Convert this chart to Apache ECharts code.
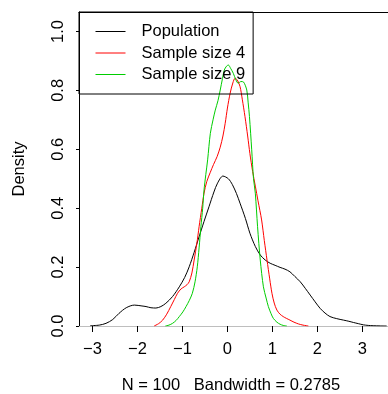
<!DOCTYPE html>
<html>
<head>
<meta charset="utf-8">
<script src="https://cdn.jsdelivr.net/npm/echarts@6/dist/echarts.min.js"></script>
<style>
  html, body { margin: 0; padding: 0; background: #fff; }
  #chart { width: 388px; height: 394px; }
</style>
</head>
<body>
<div id="chart"></div>
<script>
// 密度曲线数据
var popX = [-3.05, -2.85, -2.70, -2.55, -2.41, -2.25, -2.07, -1.90, -1.81, -1.70, -1.59, -1.48, -1.37, -1.22, -1.07, -0.95, -0.85, -0.74, -0.63, -0.52, -0.41, -0.30, -0.22, -0.10, 0.02, 0.11, 0.20, 0.28, 0.40, 0.50, 0.62, 0.73, 0.84, 0.95, 1.06, 1.17, 1.28, 1.39, 1.50, 1.62, 1.73, 1.84, 1.95, 2.06, 2.17, 2.28, 2.43, 2.58, 2.70, 2.80, 2.91, 3.02, 3.13, 3.24, 3.40, 3.54];
var popY = [0.001, 0.003, 0.009, 0.022, 0.043, 0.062, 0.071, 0.068, 0.066, 0.062, 0.061, 0.066, 0.077, 0.100, 0.133, 0.165, 0.201, 0.250, 0.303, 0.355, 0.405, 0.455, 0.485, 0.509, 0.500, 0.480, 0.450, 0.417, 0.365, 0.315, 0.270, 0.241, 0.224, 0.213, 0.206, 0.199, 0.193, 0.184, 0.168, 0.150, 0.128, 0.105, 0.082, 0.060, 0.044, 0.032, 0.025, 0.020, 0.016, 0.012, 0.008, 0.004, 0.002, 0.001, 0.0003, 0];

var s4X = [-1.63, -1.53, -1.44, -1.35, -1.26, -1.18, -1.11, -1.03, -0.96, -0.90, -0.85, -0.79, -0.74, -0.68, -0.63, -0.57, -0.52, -0.46, -0.38, -0.31, -0.23, -0.16, -0.10, -0.05, 0.00, 0.06, 0.12, 0.17, 0.22, 0.28, 0.33, 0.39, 0.45, 0.50, 0.56, 0.62, 0.68, 0.76, 0.82, 0.88, 0.94, 0.99, 1.04, 1.10, 1.17, 1.24, 1.31, 1.39, 1.48, 1.58, 1.68, 1.80];
var s4Y = [0, 0.008, 0.020, 0.040, 0.066, 0.090, 0.111, 0.126, 0.133, 0.140, 0.150, 0.180, 0.224, 0.280, 0.337, 0.400, 0.451, 0.490, 0.522, 0.548, 0.575, 0.607, 0.645, 0.688, 0.740, 0.790, 0.825, 0.841, 0.835, 0.813, 0.770, 0.711, 0.645, 0.585, 0.525, 0.475, 0.425, 0.360, 0.290, 0.224, 0.160, 0.111, 0.078, 0.054, 0.040, 0.032, 0.026, 0.020, 0.013, 0.007, 0.003, 0];

var s9X = [-1.38, -1.30, -1.22, -1.14, -1.07, -0.99, -0.92, -0.85, -0.78, -0.72, -0.67, -0.63, -0.59, -0.55, -0.52, -0.48, -0.44, -0.38, -0.32, -0.27, -0.21, -0.16, -0.11, -0.07, -0.02, 0.02, 0.07, 0.13, 0.19, 0.24, 0.30, 0.36, 0.43, 0.46, 0.49, 0.54, 0.58, 0.62, 0.67, 0.73, 0.80, 0.86, 0.91, 0.97, 1.02, 1.10, 1.17, 1.24, 1.32];
var s9Y = [0, 0.003, 0.009, 0.019, 0.032, 0.048, 0.066, 0.086, 0.111, 0.150, 0.201, 0.265, 0.337, 0.400, 0.462, 0.515, 0.564, 0.654, 0.700, 0.733, 0.765, 0.801, 0.840, 0.869, 0.882, 0.886, 0.875, 0.858, 0.835, 0.824, 0.830, 0.828, 0.801, 0.760, 0.711, 0.598, 0.500, 0.451, 0.337, 0.224, 0.133, 0.095, 0.066, 0.042, 0.026, 0.013, 0.006, 0.002, 0];

var seriesNames = ['Population', 'Sample size 4', 'Sample size 9'];
var xTicks = [-3, -2, -1, 0, 1, 2, 3];
var yTicks = [0, 0.2, 0.4, 0.6, 0.8, 1.0];
var xLabel = 'N = 100   Bandwidth = 0.2785';
var yLabel = 'Density';

var FONT = 'Liberation Sans';

// 合成 [x, y]
function toPairs(xs, ys) {
    var arr = [];
    for (var i = 0; i < xs.length; i++) {
        arr.push([xs[i], ys[i]]);
    }
    return arr;
}

var chart = echarts.init(document.getElementById('chart'));

var option = {
    animation: false,
    backgroundColor: '#fff',
    grid: { left: 79, top: 12, right: 0, bottom: 68 },
    legend: {
        orient: 'vertical',
        left: 79,
        top: 12,
        padding: [11, 8, 11, 16],
        itemWidth: 30,
        itemHeight: 14,
        itemGap: 4.5,
        borderColor: '#000',
        borderWidth: 1,
        itemStyle: { color: 'transparent', borderWidth: 0 },
        lineStyle: { width: 1 },
        textStyle: { fontFamily: FONT, fontSize: 16.5, color: '#000', lineHeight: 16, padding: [0, 0, 0, 11] },
        data: seriesNames
    },
    xAxis: [{
        type: 'value',
        min: -3.30,
        max: 3.57,
        splitLine: { show: false },
        axisLine: { show: true, onZero: false, lineStyle: { color: '#bebebe', width: 1 } },
        axisTick: { show: true, length: 6, lineStyle: { color: '#000' }, customValues: xTicks },
        axisLabel: {
            fontFamily: FONT, fontSize: 16.5, color: '#000', margin: 15,
            customValues: xTicks,
            formatter: function (v) { return String(v).replace('-', '\u2212'); }
        }
    }, {
        type: 'value',
        position: 'top',
        min: -3.30,
        max: 3.57,
        splitLine: { show: false },
        axisLine: { show: true, onZero: false, lineStyle: { color: '#000', width: 1 } },
        axisTick: { show: false },
        axisLabel: { show: false }
    }],
    yAxis: {
        type: 'value',
        min: 0,
        max: 1.066,
        splitLine: { show: false },
        axisLine: { show: true, onZero: false, lineStyle: { color: '#000', width: 1 } },
        axisTick: { show: true, length: 3, lineStyle: { color: '#000' }, customValues: yTicks },
        axisLabel: {
            fontFamily: FONT, fontSize: 16.5, color: '#000', margin: 12, rotate: 90,
            customValues: yTicks,
            formatter: function (v) { return v.toFixed(1); }
        }
    },
    series: [
        {
            name: seriesNames[0], type: 'line', symbol: 'none', smooth: 0.3,
            lineStyle: { color: '#000', width: 1 }, itemStyle: { color: '#000' },
            data: toPairs(popX, popY)
        },
        {
            name: seriesNames[1], type: 'line', symbol: 'none', smooth: 0.3,
            lineStyle: { color: '#ff0000', width: 1 }, itemStyle: { color: '#ff0000' },
            data: toPairs(s4X, s4Y)
        },
        {
            name: seriesNames[2], type: 'line', symbol: 'none', smooth: 0.3,
            lineStyle: { color: '#00cd00', width: 1 }, itemStyle: { color: '#00cd00' },
            data: toPairs(s9X, s9Y)
        }
    ],
    graphic: [
        {
            type: 'text', x: 231, y: 385,
            style: { text: xLabel, font: '16.5px "Liberation Sans"', fill: '#000', align: 'center', verticalAlign: 'middle' }
        },
        {
            type: 'text', x: 19, y: 169, rotation: Math.PI / 2,
            style: { text: yLabel, font: '16.5px "Liberation Sans"', fill: '#000', align: 'center', verticalAlign: 'middle' }
        }
    ]
};

chart.setOption(option);
</script>
</body>
</html>
